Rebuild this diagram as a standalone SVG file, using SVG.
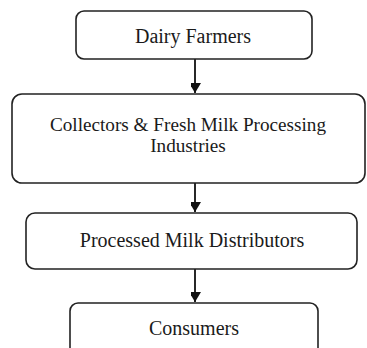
<svg xmlns="http://www.w3.org/2000/svg" width="367" height="348" viewBox="0 0 367 348">
<style>
.box{fill:#fff;stroke:#222;stroke-width:1.6}
.t{font-family:"Liberation Serif","Times New Roman",serif;font-size:20px;fill:#1a1a1a;text-anchor:middle}
.s{font-size:19.2px}
.c{stroke:#111;stroke-width:1.8;fill:none}
</style>
<defs>
<marker id="ah" viewBox="0 0 12 10" refX="10" refY="6" markerWidth="12" markerHeight="10" markerUnits="userSpaceOnUse" orient="auto">
<path d="M0,0 L10,6 L0,12 Z" fill="#111"/>
</marker>
</defs>
<rect width="367" height="348" fill="#fff"/>
<g id="connectors">
<line class="c" x1="195" y1="59" x2="195" y2="93" marker-end="url(#ah)"/>
<line class="c" x1="195" y1="183" x2="195" y2="212" marker-end="url(#ah)"/>
<line class="c" x1="195" y1="269" x2="195" y2="302" marker-end="url(#ah)"/>
</g>
<g id="dairy-farmers">
<rect class="box" x="76" y="11" width="236" height="48" rx="8"/>
<text class="t" x="193" y="43">Dairy Farmers</text>
</g>
<g id="collectors">
<rect class="box" x="12" y="94" width="353" height="89" rx="10"/>
<text class="t s" x="188" y="131">Collectors &amp; Fresh Milk Processing</text>
<text class="t s" x="188" y="152">Industries</text>
</g>
<g id="distributors">
<rect class="box" x="26" y="213" width="331" height="56" rx="9"/>
<text class="t" x="192" y="247">Processed Milk Distributors</text>
</g>
<g id="consumers">
<rect class="box" x="70" y="303" width="248" height="55" rx="8"/>
<text class="t" x="194" y="335">Consumers</text>
</g>
</svg>
